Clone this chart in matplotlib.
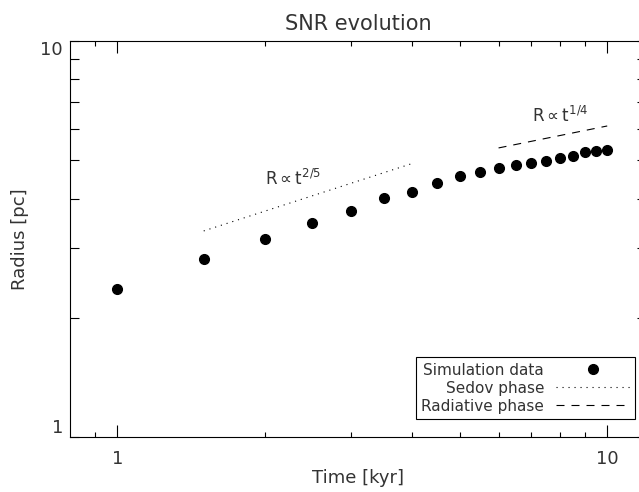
import numpy as np
import matplotlib
matplotlib.use('Agg')
import matplotlib.pyplot as plt
from matplotlib.ticker import FixedLocator, NullFormatter

# simulated shell radius vs age
time_kyr = [1.0, 1.5, 2.0, 2.5, 3.0, 3.5, 4.0, 4.5, 5.0, 5.5,
            6.0, 6.5, 7.0, 7.5, 8.0, 8.5, 9.0, 9.5, 10.0]
radius_pc = [2.36, 2.81, 3.16, 3.47, 3.72, 4.01, 4.16, 4.37, 4.57, 4.67,
             4.77, 4.87, 4.93, 4.97, 5.07, 5.13, 5.24, 5.28, 5.32]

# analytic power laws
sedov_t = [1.5, 4.0]
sedov_norm = 2.818
sedov_index = 0.4
rad_t = [6.0, 10.0]
rad_norm = 3.431
rad_index = 0.25

plt.rcParams['font.family'] = ['DejaVu Sans']
plt.rcParams['mathtext.fontset'] = 'dejavusans'
txt = '#333333'

fig = plt.figure(figsize=(6.39, 4.92), dpi=100)
ax = fig.add_axes([70/639, 55/492, 576/639, 396/492])

ax.plot(time_kyr, radius_pc, 'o', color='black', markersize=7, label='Simulation data')
st = np.array(sedov_t)
ax.plot(st, sedov_norm * st**sedov_index, color='black', lw=0.8,
        linestyle=(0, (1, 4.4)), label='Sedov phase')
rt = np.array(rad_t)
ax.plot(rt, rad_norm * rt**rad_index, color='black', lw=0.8,
        linestyle=(0, (7.2, 6.3)), label='Radiative phase')

ax.text(2.0, 4.33, r'R$\propto$t$^{2/5}$', fontsize=12, color=txt)
ax.text(7.03, 6.24, r'R$\propto$t$^{1/4}$', fontsize=12, color=txt)

ax.set_xscale('log')
ax.set_yscale('log')
ax.set_xlim(0.8, 12)
ax.set_ylim(1, 10)

ax.xaxis.set_major_locator(FixedLocator([1, 10]))
ax.xaxis.set_minor_locator(FixedLocator([0.9, 2, 3, 4, 5, 6, 7, 8, 9]))
ax.yaxis.set_major_locator(FixedLocator([1, 10]))
ax.yaxis.set_minor_locator(FixedLocator([2, 3, 4, 5, 6, 7, 8, 9]))
ax.set_xticklabels(['1', '10'])
ax.set_yticklabels(['1', '10'])
ax.xaxis.set_minor_formatter(NullFormatter())
ax.yaxis.set_minor_formatter(NullFormatter())

ax.tick_params(which='both', direction='in', top=True, right=True,
               colors='black', labelcolor=txt, labelsize=13, width=0.8)
ax.tick_params(axis='x', which='major', length=8.5, pad=9)
ax.tick_params(axis='x', which='minor', length=3.6)
ax.tick_params(axis='y', which='both', length=6.5, pad=5)
for sp in ax.spines.values():
    sp.set_linewidth(0.8)

# y labels sit inside the axis range
yticks = ax.yaxis.get_major_ticks()
yticks[0].label1.set_va('bottom')
yticks[1].label1.set_va('top')

ax.set_title('SNR evolution', fontsize=15, color=txt, pad=8)
ax.set_xlabel('Time [kyr]', fontsize=13, color=txt, labelpad=1)
ax.set_ylabel('Radius [pc]', fontsize=13, color=txt, labelpad=8)

leg = ax.legend(loc='lower right', bbox_to_anchor=(0.981, 0.0455),
                borderaxespad=0, markerfirst=False, fancybox=False,
                framealpha=1, edgecolor='black', fontsize=11,
                handlelength=4.8, handletextpad=0.8, labelspacing=0.2,
                borderpad=0.35)
leg.get_frame().set_linewidth(0.8)
for t in leg.get_texts():
    t.set_color(txt)

fig.savefig('out.png', dpi=100)
